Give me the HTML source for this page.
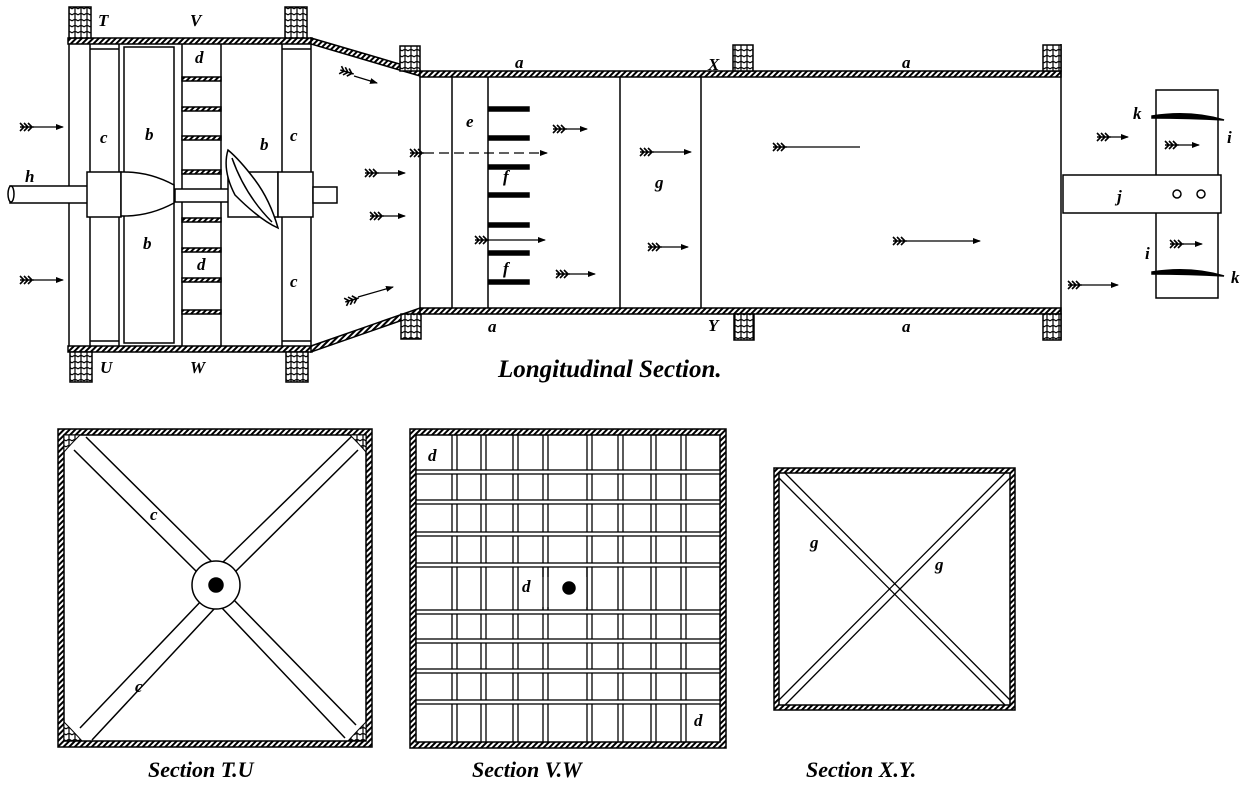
<!DOCTYPE html>
<html><head><meta charset="utf-8"><style>
html,body{margin:0;padding:0;background:#fff}
svg{display:block}
text{font-family:"Liberation Serif",serif;font-style:italic;font-weight:bold;fill:#000}
</style></head><body>
<svg width="1250" height="788" viewBox="0 0 1250 788" xmlns="http://www.w3.org/2000/svg">
<defs>
<pattern id="h" width="4" height="4" patternUnits="userSpaceOnUse" patternTransform="rotate(45)">
<rect width="4" height="4" fill="#fff"/><rect width="2" height="4" fill="#000"/></pattern>
<pattern id="w" width="6" height="6" patternUnits="userSpaceOnUse">
<rect width="6" height="6" fill="#fff"/><path d="M0,3 Q3,0 6,3 M3,0 V6" stroke="#000" stroke-width="1.2" fill="none"/></pattern>
<marker id="ah" markerWidth="8" markerHeight="6" refX="7" refY="3" orient="auto" markerUnits="userSpaceOnUse"><path d="M0,0 L8,3 L0,6 Z" fill="#000"/></marker>
<symbol id="fl" overflow="visible"><path d="M0,-4 L4,0 L0,4 M4,-4 L8,0 L4,4 M8,-4 L12,0 L8,4 M0,0 L14,0" stroke="#000" stroke-width="1.6" fill="none"/></symbol>
</defs>
<g stroke="#000" fill="none" stroke-width="1.5">
<!-- left box -->
<rect x="68" y="38" width="244" height="6" fill="url(#h)"/>
<rect x="68" y="346" width="244" height="6" fill="url(#h)"/>
<line x1="69" y1="44" x2="69" y2="346"/>
<line x1="90" y1="44" x2="90" y2="346"/><line x1="119" y1="44" x2="119" y2="346"/>
<line x1="90" y1="49" x2="119" y2="49"/><line x1="90" y1="341" x2="119" y2="341"/>
<rect x="124" y="47" width="50" height="296"/>
<line x1="182" y1="44" x2="182" y2="346"/><line x1="221" y1="44" x2="221" y2="346"/>
<g fill="url(#h)"><rect x="182" y="77" width="39" height="4"/><rect x="182" y="107" width="39" height="4"/><rect x="182" y="136" width="39" height="4"/><rect x="182" y="170" width="39" height="4"/><rect x="182" y="218" width="39" height="4"/><rect x="182" y="248" width="39" height="4"/><rect x="182" y="278" width="39" height="4"/><rect x="182" y="310" width="39" height="4"/></g>
<line x1="282" y1="44" x2="282" y2="346"/><line x1="311" y1="44" x2="311" y2="346"/>
<line x1="282" y1="49" x2="311" y2="49"/><line x1="282" y1="341" x2="311" y2="341"/>
<!-- shaft -->
<rect x="10" y="186" width="78" height="17" fill="#fff"/>
<ellipse cx="11" cy="194" rx="3" ry="8" fill="#fff"/>
<rect x="87" y="172" width="34" height="45" fill="#fff"/>
<path d="M121,172 L124,172 Q150,172 174,185 L174,203 Q150,216 124,216 L121,216 Z" fill="#fff"/>
<rect x="175" y="189" width="55" height="13" fill="#fff"/>
<rect x="228" y="172" width="50" height="45" fill="#fff"/>
<path d="M228,150 Q222,170 235,195 Q260,220 278,228 Q270,200 255,180 Q240,160 228,150 Z" fill="#fff"/>
<path d="M232,158 Q245,195 272,222"/>
<rect x="278" y="172" width="35" height="45" fill="#fff"/>
<rect x="313" y="187" width="24" height="16" fill="#fff"/>
<!-- cone -->
<path d="M311,38 L420,70 L420,76 L311,44 Z" fill="url(#h)"/>
<path d="M311,346 L420,308 L420,314 L311,352 Z" fill="url(#h)"/>
<!-- main tube -->
<rect x="420" y="71" width="641" height="6" fill="url(#h)"/>
<rect x="420" y="308" width="641" height="6" fill="url(#h)"/>
<line x1="420" y1="77" x2="420" y2="308"/><line x1="452" y1="77" x2="452" y2="308"/>
<line x1="488" y1="77" x2="488" y2="308"/><line x1="620" y1="77" x2="620" y2="308"/>
<line x1="701" y1="77" x2="701" y2="308"/><line x1="1061" y1="44" x2="1061" y2="340"/>
<g fill="#000"><rect x="489" y="107" width="40" height="4"/><rect x="489" y="136" width="40" height="4"/><rect x="489" y="165" width="40" height="4"/><rect x="489" y="193" width="40" height="4"/><rect x="489" y="223" width="40" height="4"/><rect x="489" y="251" width="40" height="4"/><rect x="489" y="280" width="40" height="4"/></g>
<!-- j and ring -->
<rect x="1156" y="90" width="62" height="208" fill="#fff"/>
<rect x="1063" y="175" width="158" height="38" fill="#fff"/>
<circle cx="1177" cy="194" r="4"/><circle cx="1201" cy="194" r="4"/>
<path d="M1152,116 Q1190,110 1224,120 Q1190,118 1152,118 Z" fill="#000"/>
<path d="M1152,272 Q1190,266 1224,276 Q1190,274 1152,274 Z" fill="#000"/>
<!-- wood blocks -->
<g fill="url(#w)">
<rect x="69" y="7" width="22" height="31"/><rect x="285" y="7" width="22" height="31"/>
<rect x="70" y="352" width="22" height="30"/><rect x="286" y="352" width="22" height="30"/>
<rect x="400" y="46" width="20" height="25"/><rect x="401" y="314" width="20" height="25"/>
<rect x="733" y="45" width="20" height="26"/><rect x="734" y="314" width="20" height="26"/>
<rect x="1043" y="45" width="18" height="26"/><rect x="1043" y="314" width="18" height="26"/>
</g>
<!-- Section TU -->
<rect x="58" y="429" width="314" height="318" fill="url(#h)"/>
<rect x="64" y="435" width="302" height="306" fill="#fff"/>
<path d="M74,450 L200,575 M86,437 L212,562 M222,563 L352,436 M232,575 L358,450 M204,598 L80,728 M215,608 L92,740 M232,598 L356,725 M222,608 L345,738" />
<circle cx="216" cy="585" r="24" fill="#fff"/>
<circle cx="216" cy="585" r="7" fill="#000"/>
<g fill="url(#w)" stroke-width="1"><path d="M64,435 L80,435 Q70,445 64,452 Z"/><path d="M366,435 L350,435 Q360,445 366,452 Z"/><path d="M64,741 L64,722 Q72,730 82,741 Z"/><path d="M366,741 L366,722 Q358,730 348,741 Z"/></g>
<!-- Section VW -->
<rect x="410" y="429" width="316" height="319" fill="url(#h)"/>
<rect x="416" y="435" width="304" height="307" fill="#fff"/>
<g stroke-width="1.3">
<path d="M452,435V742M457,435V742M481,435V742M486,435V742M513,435V742M518,435V742M543,435V742M548,435V742M587,435V742M592,435V742M618,435V742M623,435V742M651,435V742M656,435V742M681,435V742M686,435V742"/>
</g>
<g fill="#fff" stroke-width="1.3">
<rect x="416" y="470" width="304" height="4"/><rect x="416" y="500" width="304" height="4"/><rect x="416" y="532" width="304" height="4"/><rect x="416" y="563" width="304" height="4"/><rect x="416" y="610" width="304" height="4"/><rect x="416" y="639" width="304" height="4"/><rect x="416" y="669" width="304" height="4"/><rect x="416" y="700" width="304" height="4"/>
</g>
<rect x="535" y="577" width="52" height="30" fill="#fff" stroke="none"/>
<path d="M543,567V610M548,567V610M587,567V610" stroke-width="1.3"/>
<circle cx="569" cy="588" r="6" fill="#000"/>
<!-- Section XY -->
<rect x="774" y="468" width="241" height="242" fill="url(#h)"/>
<rect x="779" y="473" width="231" height="232" fill="#fff"/>
<path d="M779,478 L1005,705 M785,473 L1010,700 M779,700 L1005,473 M785,705 L1010,478" stroke-width="1.3"/>
</g>
<!-- arrows -->
<g stroke="#000" stroke-width="1.2" fill="none" marker-end="url(#ah)">
<line x1="34" y1="127" x2="63" y2="127"/><line x1="34" y1="280" x2="63" y2="280"/>
<line x1="354" y1="76" x2="377" y2="83"/><line x1="379" y1="173" x2="405" y2="173"/>
<line x1="384" y1="216" x2="405" y2="216"/><line x1="358" y1="297" x2="393" y2="287"/>
<line x1="424" y1="153" x2="547" y2="153" stroke-dasharray="10,5"/>
<line x1="489" y1="240" x2="545" y2="240"/><line x1="567" y1="129" x2="587" y2="129"/>
<line x1="570" y1="274" x2="595" y2="274"/><line x1="654" y1="152" x2="691" y2="152"/>
<line x1="662" y1="247" x2="688" y2="247"/><line x1="787" y1="147" x2="860" y2="147" marker-end="none"/>
<line x1="907" y1="241" x2="980" y2="241"/><line x1="1111" y1="137" x2="1128" y2="137"/>
<line x1="1179" y1="145" x2="1199" y2="145"/><line x1="1184" y1="244" x2="1202" y2="244"/>
<line x1="1082" y1="285" x2="1118" y2="285"/>
</g>
<g>
<use href="#fl" x="20" y="127"/><use href="#fl" x="20" y="280"/>
<use href="#fl" x="340" y="72" transform="rotate(17 347 72)"/><use href="#fl" x="365" y="173"/>
<use href="#fl" x="370" y="216"/><use href="#fl" x="345" y="300" transform="rotate(-17 352 300)"/>
<use href="#fl" x="410" y="153"/><use href="#fl" x="475" y="240"/>
<use href="#fl" x="553" y="129"/><use href="#fl" x="556" y="274"/>
<use href="#fl" x="640" y="152"/><use href="#fl" x="648" y="247"/>
<use href="#fl" x="773" y="147"/><use href="#fl" x="893" y="241"/>
<use href="#fl" x="1097" y="137"/><use href="#fl" x="1165" y="145"/>
<use href="#fl" x="1170" y="244"/><use href="#fl" x="1068" y="285"/>
</g>
<!-- labels -->
<g font-size="17">
<text x="98" y="26">T</text><text x="190" y="26">V</text><text x="195" y="63">d</text>
<text x="100" y="143">c</text><text x="145" y="140">b</text><text x="260" y="150">b</text><text x="290" y="141">c</text>
<text x="25" y="182">h</text><text x="143" y="249">b</text><text x="197" y="270">d</text><text x="290" y="287">c</text>
<text x="100" y="373">U</text><text x="190" y="373">W</text>
<text x="515" y="68">a</text><text x="708" y="70">X</text><text x="902" y="68">a</text>
<text x="466" y="127">e</text><text x="503" y="182">f</text><text x="503" y="274">f</text><text x="655" y="188">g</text>
<text x="488" y="332">a</text><text x="708" y="331">Y</text><text x="902" y="332">a</text>
<text x="1117" y="202">j</text><text x="1133" y="119">k</text><text x="1227" y="143">i</text>
<text x="1145" y="259">i</text><text x="1231" y="283">k</text>
<text x="150" y="520">c</text><text x="135" y="692">c</text>
<text x="428" y="461">d</text><text x="522" y="592">d</text><text x="694" y="726">d</text>
<text x="810" y="548">g</text><text x="935" y="570">g</text>
</g>
<text x="498" y="377" font-size="25">Longitudinal Section.</text>
<text x="148" y="777" font-size="22">Section T.U</text>
<text x="472" y="777" font-size="22">Section V.W</text>
<text x="806" y="777" font-size="22">Section X.Y.</text>
</svg>
</body></html>
